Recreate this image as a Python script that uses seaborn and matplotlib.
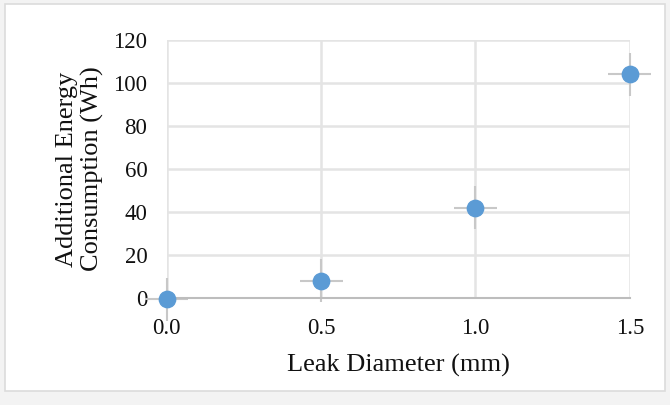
import matplotlib
matplotlib.use("Agg")
import matplotlib.pyplot as plt
import seaborn as sns
import pandas as pd
from matplotlib.patches import Rectangle

leak_diameter = [0.0, 0.5, 1.0, 1.5]
energy = [-0.5, 8, 42, 104]
y_err = [10, 10, 10, 10]
x_err = [0.07, 0.07, 0.07, 0.07]
x_ticks = [0.0, 0.5, 1.0, 1.5]
y_ticks = [0, 20, 40, 60, 80, 100, 120]

df = pd.DataFrame({"Leak Diameter (mm)": leak_diameter, "Energy": energy})

sns.set_theme(style="white")
plt.rcParams["font.family"] = ["Liberation Serif", "DejaVu Serif"]

fig = plt.figure(figsize=(6.7, 4.05), dpi=100)
fig.patch.set_facecolor("#f3f3f3")
frame = Rectangle((0.008, 0.035), 0.984, 0.955, transform=fig.transFigure,
                  facecolor="white", edgecolor="#dcdcdc", linewidth=1.2, zorder=-10)
fig.add_artist(frame)
ax = fig.add_axes([0.249, 0.264, 0.691, 0.637])
ax.set_zorder(5)
ax.set_facecolor("white")

ax.errorbar(df["Leak Diameter (mm)"], df["Energy"], yerr=y_err, xerr=x_err,
            fmt="none", ecolor="#c8c8c8", elinewidth=1.5, capsize=0, zorder=2, clip_on=False)
sns.scatterplot(data=df, x="Leak Diameter (mm)", y="Energy", ax=ax, s=140,
                color="#5b9bd5", edgecolor="#5b9bd5", zorder=3, clip_on=False)

ax.set_xlim(0, 1.5)
ax.set_ylim(0, 120)
ax.set_xticks(x_ticks)
ax.set_xticklabels([f"{v:.1f}" for v in x_ticks])
ax.set_yticks(y_ticks)
ax.grid(True, color="#e4e4e4", linewidth=1.8)
ax.set_axisbelow(True)
for s in ["top", "right", "left"]:
    ax.spines[s].set_visible(False)
ax.spines["bottom"].set_color("#bdbdbd")
ax.spines["bottom"].set_linewidth(1.5)
ax.tick_params(axis="both", labelsize=16.5, colors="#111111", length=0)
ax.tick_params(axis="x", pad=14)
ax.tick_params(axis="y", pad=14)
ax.set_xlabel("Leak Diameter (mm)", fontsize=19, color="#111111", labelpad=11)
ax.set_ylabel("Additional Energy\nConsumption (Wh)", fontsize=19, color="#111111",
              labelpad=7, linespacing=1.15)

fig.savefig("out.png", dpi=100)
